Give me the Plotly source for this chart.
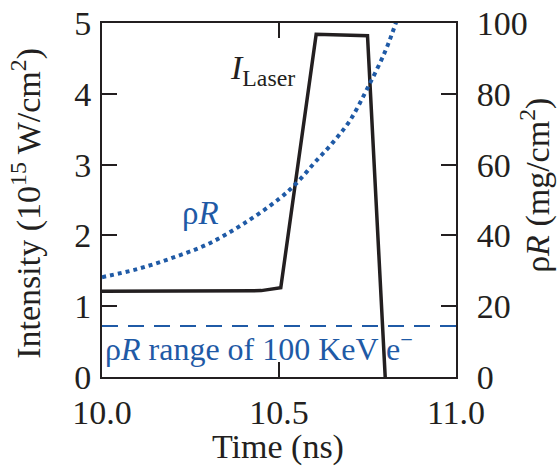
import plotly.graph_objects as go

# Laser pulse intensity (10^15 W/cm^2) vs time (ns)
laser_time = [10.0, 10.45, 10.505, 10.605, 10.75, 10.80]
laser_intensity = [1.21, 1.22, 1.26, 4.84, 4.82, 0.0]

# Areal density rhoR (mg/cm^2) vs time (ns)
rhor_time = [10.0, 10.1, 10.2, 10.3, 10.4, 10.5, 10.55, 10.6, 10.65, 10.7, 10.75, 10.8, 10.83, 10.86]
rhor_value = [28.2, 30.5, 33.7, 37.6, 43.3, 50.3, 54.8, 60.5, 66.0, 72.4, 81.6, 92.0, 100.0, 109.0]

# rhoR range of 100 keV electrons
range_time = [10.0, 11.0]
range_value = [14.4, 14.4]

x_ticks = [10.0, 10.5, 11.0]
left_ticks = [0, 1, 2, 3, 4, 5]
right_ticks = [0, 20, 40, 60, 80, 100]

BLUE = "#1f5aa6"
INK = "#231f20"
FONT = "Times New Roman, Liberation Serif, serif"
TICK_SIZE = 34
TITLE_SIZE = 34

fig = go.Figure()

fig.add_trace(go.Scatter(
    x=laser_time, y=laser_intensity, mode="lines",
    line=dict(color=INK, width=3.5), yaxis="y", showlegend=False,
))
fig.add_trace(go.Scatter(
    x=rhor_time, y=rhor_value, mode="lines", line_shape="spline",
    line=dict(color=BLUE, width=4, dash="dot"), yaxis="y2", showlegend=False,
))
fig.add_trace(go.Scatter(
    x=range_time, y=range_value, mode="lines",
    line=dict(color=BLUE, width=2, dash="16px,10px"), yaxis="y2", showlegend=False,
))

axis_common = dict(
    showgrid=False, zeroline=False, showline=True, linecolor=INK, linewidth=2,
    ticks="inside", ticklen=15, tickwidth=2, tickcolor=INK, automargin=False,
    tickfont=dict(family=FONT, size=TICK_SIZE, color=INK),
)
title_font = dict(family=FONT, size=TITLE_SIZE, color=INK)

fig.update_layout(
    width=559, height=466,
    margin=dict(l=102, r=103, t=23, b=89),
    plot_bgcolor="white", paper_bgcolor="white",
    font=dict(family=FONT, color=INK),
    xaxis=dict(
        **axis_common, range=[10.0, 11.0], tickvals=x_ticks,
        ticktext=[f"{v:.1f}" for v in x_ticks], mirror="ticks",
        ticklabelstandoff=4,
    ),
    yaxis=dict(
        **axis_common, range=[0, 5], tickvals=left_ticks,
        ticklabelstandoff=2,
    ),
    yaxis2=dict(
        **axis_common, range=[0, 100], tickvals=right_ticks, overlaying="y", side="right",
        ticklabelstandoff=12,
    ),
    annotations=[
        # axis titles
        dict(x=0.497, y=-0.197, xref="paper", yref="paper",
             xanchor="center", yanchor="middle",
             text="Time (ns)", showarrow=False, font=title_font),
        dict(x=-0.214, y=0.49, xref="paper", yref="paper", textangle=-90,
             xanchor="center", yanchor="middle",
             text="Intensity (10<sup>15</sup> W/cm<sup>2</sup>)", showarrow=False,
             font=title_font),
        dict(x=1.226, y=0.54, xref="paper", yref="paper", textangle=-90,
             xanchor="center", yanchor="middle",
             text="ρ<i>R</i> (mg/cm<sup>2</sup>)", showarrow=False,
             font=title_font),
        # curve labels
        dict(x=10.55, y=4.33, xref="x", yref="y", xanchor="right",
             text="<i>I</i><sub>Laser</sub>", showarrow=False,
             font=dict(family=FONT, size=34, color=INK)),
        dict(x=10.277, y=2.32, xref="x", yref="y",
             text="ρ<i>R</i>", showarrow=False,
             font=dict(family=FONT, size=33, color=BLUE)),
        dict(x=0.003, y=0.43, xref="paper", yref="y", xanchor="left",
             text="ρ<i>R</i> range of 100 KeV e<sup>−</sup>", showarrow=False,
             font=dict(family=FONT, size=32, color=BLUE)),
    ],
)

fig.write_html("out.html")
